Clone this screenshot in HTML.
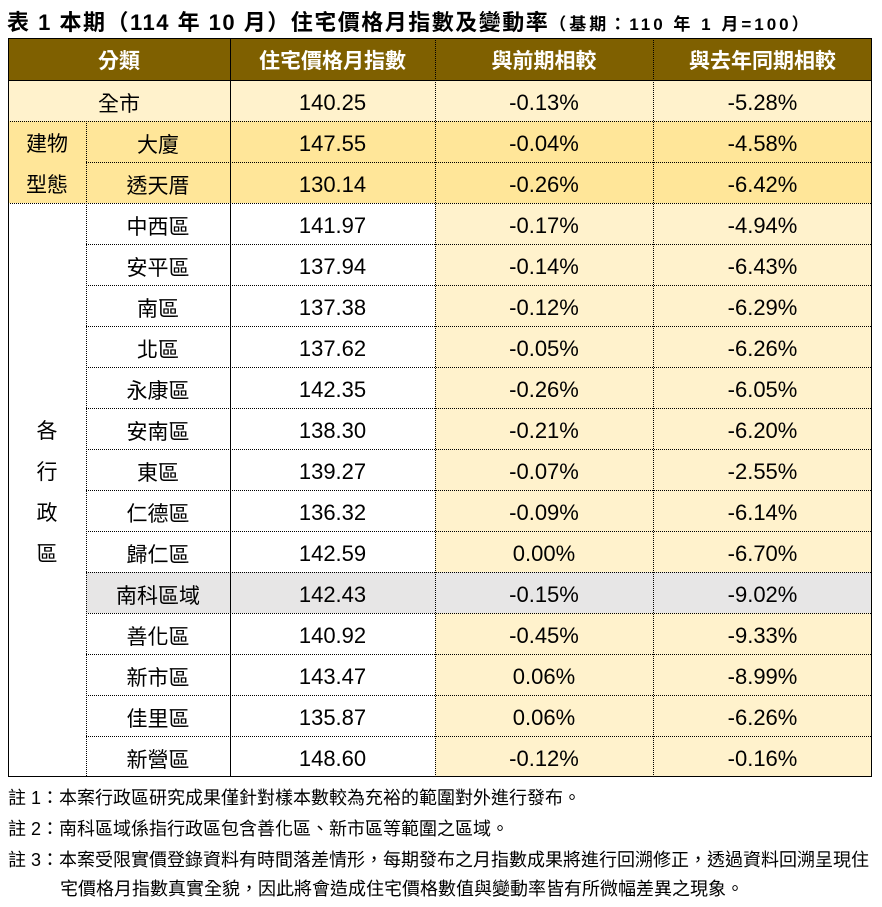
<!DOCTYPE html>
<html><head><meta charset="utf-8"><style>
body{margin:0;width:882px;height:907px;background:#fff;position:relative;overflow:hidden;font-family:"Liberation Sans","Noto Sans CJK TC",sans-serif;color:#000}
.c{position:absolute;display:flex;align-items:center;justify-content:center;font-size:21px;box-sizing:border-box;padding-top:5px}
.n{font-size:22px}
.h{color:#fff;font-weight:bold;font-size:21px;padding-top:2px}
.t{position:absolute;font-size:18px;white-space:nowrap}
svg{position:absolute;left:0;top:0}
</style></head><body>
<div class="t" style="left:7px;top:5px;font-size:22px;font-weight:bold;letter-spacing:1.5px">表 1 本期（114 年 10 月）住宅價格月指數及變動率<span style="font-size:17px;letter-spacing:3px">（基期：110 年 1 月=100）</span></div>
<div id="tb"></div>
<svg width="882" height="907" id="sv"></svg>
<div class="t" style="left:8px;top:784px">註 1：本案行政區研究成果僅針對樣本數較為充裕的範圍對外進行發布。</div>
<div class="t" style="left:8px;top:815px">註 2：南科區域係指行政區包含善化區、新市區等範圍之區域。</div>
<div class="t" style="left:8px;top:846px">註 3：本案受限實價登錄資料有時間落差情形，每期發布之月指數成果將進行回溯修正，透過資料回溯呈現住</div>
<div class="t" style="left:60px;top:875px">宅價格月指數真實全貌，因此將會造成住宅價格數值與變動率皆有所微幅差異之現象。</div>
<script>
var X=[8,86,230,435,653,872];
var rows=[["中西區","141.97","-0.17%","-4.94%"],["安平區","137.94","-0.14%","-6.43%"],["南區","137.38","-0.12%","-6.29%"],["北區","137.62","-0.05%","-6.26%"],["永康區","142.35","-0.26%","-6.05%"],["安南區","138.30","-0.21%","-6.20%"],["東區","139.27","-0.07%","-2.55%"],["仁德區","136.32","-0.09%","-6.14%"],["歸仁區","142.59","0.00%","-6.70%"],["南科區域","142.43","-0.15%","-9.02%"],["善化區","140.92","-0.45%","-9.33%"],["新市區","143.47","0.06%","-8.99%"],["佳里區","135.87","0.06%","-6.26%"],["新營區","148.60","-0.12%","-0.16%"]];
var h="";
function cell(x1,y1,x2,y2,bg,txt,cls){h+='<div class="c '+(cls||'')+'" style="left:'+x1+'px;top:'+y1+'px;width:'+(x2-x1)+'px;height:'+(y2-y1)+'px;background:'+bg+'">'+txt+'</div>';}
cell(8,38,230,80,"#7F6000","分類","h");cell(230,38,435,80,"#7F6000","住宅價格月指數","h");cell(435,38,653,80,"#7F6000","與前期相較","h");cell(653,38,872,80,"#7F6000","與去年同期相較","h");
cell(8,80,230,121,"#FFF2CC","全市");cell(230,80,435,121,"#FFF2CC","140.25","n");cell(435,80,653,121,"#FFF2CC","-0.13%","n");cell(653,80,872,121,"#FFF2CC","-5.28%","n");
cell(8,121,86,203,"#FFE699",'<div style="line-height:41px;text-align:center">建物<br>型態</div>');
var b=[["大廈","147.55","-0.04%","-4.58%"],["透天厝","130.14","-0.26%","-6.42%"]];
b.forEach(function(r,i){var y=121+41*i;for(var k=0;k<4;k++)cell(X[k+1],y,X[k+2],y+41,"#FFE699",r[k],k?"n":"");});
cell(8,203,86,777,"#fff",'<div style="line-height:41px;text-align:center">各<br>行<br>政<br>區</div>');
rows.forEach(function(r,i){var y=203+41*i;var g=i==9;for(var k=0;k<4;k++){var bg=g?"#E7E6E6":(k>=2?"#FFF2CC":"#fff");cell(X[k+1],y,X[k+2],y+41,bg,r[k],k?"n":"");}});
document.getElementById("tb").innerHTML=h;
var s="";
function ln(x1,y1,x2,y2,d){s+='<line x1="'+x1+'" y1="'+y1+'" x2="'+x2+'" y2="'+y2+'" stroke="#000" stroke-width="1"'+(d?' stroke-dasharray="1,1"':'')+'/>';}
ln(8,38.5,872,38.5);ln(8,776.5,872,776.5);ln(8.5,38,8.5,777);ln(871.5,38,871.5,777);
ln(230.5,38,230.5,777);ln(435.5,38,435.5,777,1);ln(653.5,38,653.5,777,1);
ln(86.5,121,86.5,777,1);
ln(8,80.5,872,80.5);ln(8,121.5,872,121.5,1);ln(86,162.5,872,162.5,1);ln(8,203.5,872,203.5,1);
for(var i=1;i<14;i++){var y=203+41*i+0.5;ln(86,y,872,y,1);}
document.getElementById("sv").innerHTML=s;
</script>
</body></html>
